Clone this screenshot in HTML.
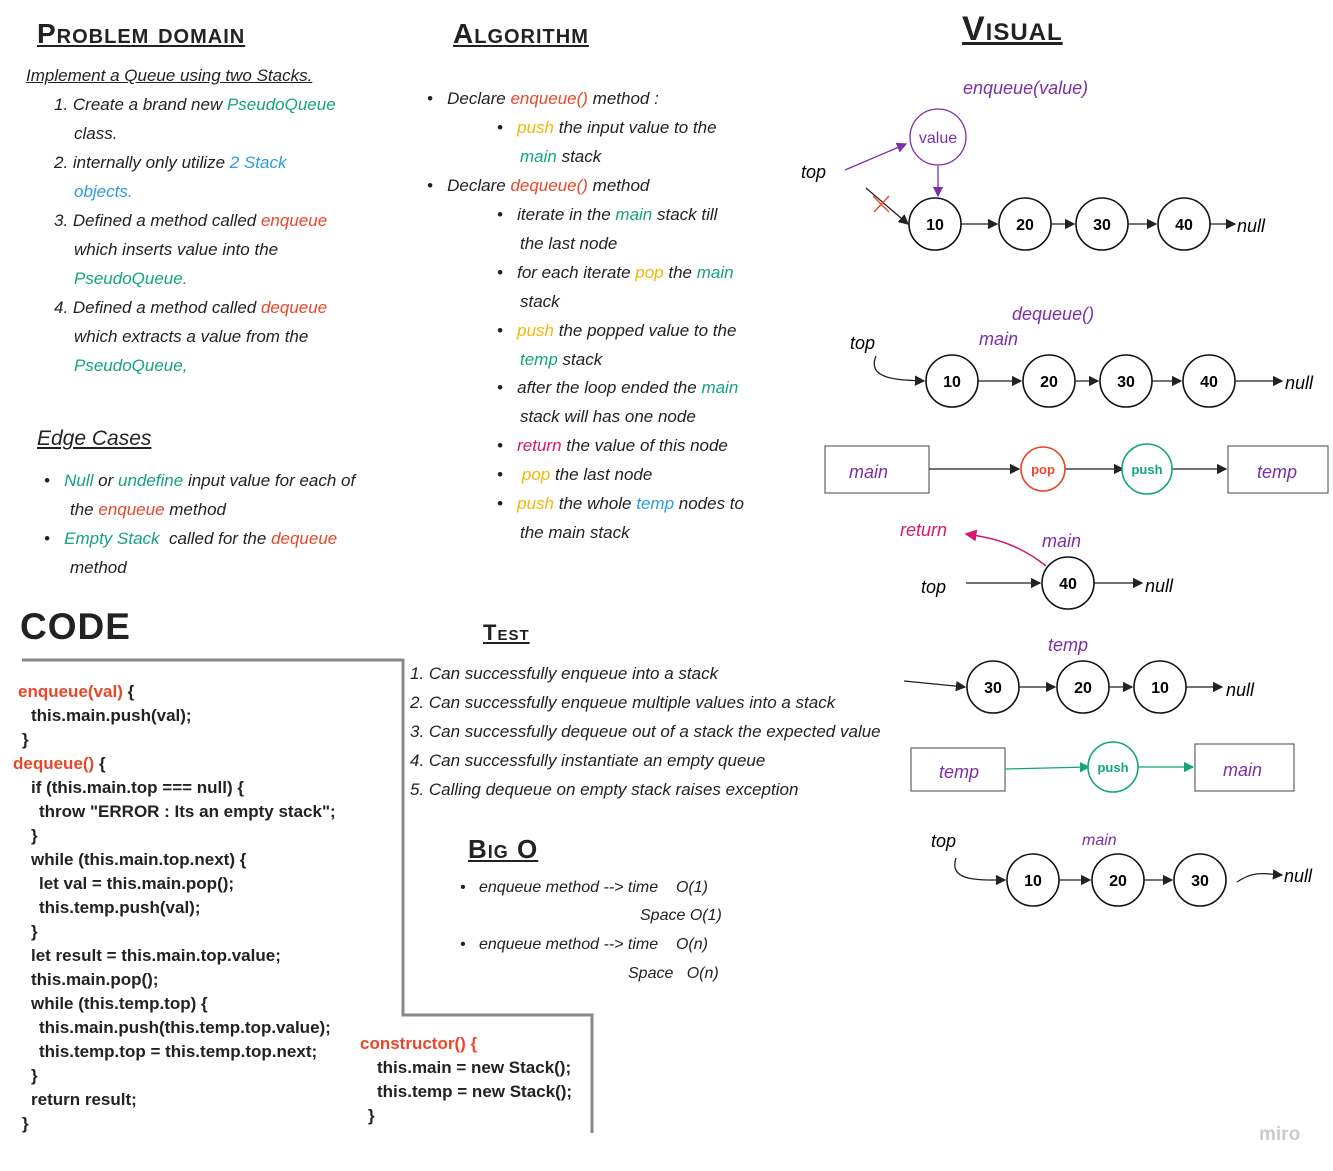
<!DOCTYPE html>
<html><head><meta charset="utf-8"><style>
body{margin:0;width:1333px;height:1171px;background:#fff;position:relative;overflow:hidden;font-family:"Liberation Sans",sans-serif;color:#222}
.t{position:absolute;white-space:nowrap;font-style:italic;font-size:17px}
.h{position:absolute;font-weight:bold;font-size:28px;text-decoration:underline;letter-spacing:1px;font-variant:small-caps;white-space:nowrap}
.c{position:absolute;font-weight:bold;font-size:17px;white-space:nowrap}
.r{color:#e8472a}.g{color:#14a37f}.b{color:#2b9de0}.y{color:#f2b705}.p{color:#7b2fa8}.m{color:#d6176b}
</style></head><body>
<div class="h" style="left:37px;top:18px">Problem domain</div>
<div class="h" style="left:453px;top:18px">Algorithm</div>
<div class="h" style="left:962px;top:10px;font-size:34px">Visual</div>
<div>
<div class="t" style="left:26px;top:66px;text-decoration:underline">Implement a Queue using two Stacks.</div>
<div class="t" style="left:54px;top:95px">1. Create a brand new <span class="g">PseudoQueue</span></div>
<div class="t" style="left:74px;top:124px">class.</div>
<div class="t" style="left:54px;top:153px">2. internally only utilize <span class="b">2 Stack</span></div>
<div class="t b" style="left:74px;top:182px">objects.</div>
<div class="t" style="left:54px;top:211px">3. Defined a method called <span class="r">enqueue</span></div>
<div class="t" style="left:74px;top:240px">which inserts value into the</div>
<div class="t g" style="left:74px;top:269px">PseudoQueue.</div>
<div class="t" style="left:54px;top:298px">4. Defined a method called <span class="r">dequeue</span></div>
<div class="t" style="left:74px;top:327px">which extracts a value from the</div>
<div class="t g" style="left:74px;top:356px">PseudoQueue,</div>
</div>
<div class="t" style="left:37px;top:427px;font-size:21px;text-decoration:underline">Edge Cases</div>
<div>
<div class="t" style="left:44px;top:471px">•&nbsp;&nbsp;&nbsp;<span class="g">Null</span> or <span class="g">undefine</span> input value for each of</div>
<div class="t" style="left:70px;top:500px">the <span class="r">enqueue</span> method</div>
<div class="t" style="left:44px;top:529px">•&nbsp;&nbsp;&nbsp;<span class="g">Empty Stack</span>&nbsp; called for the <span class="r">dequeue</span></div>
<div class="t" style="left:70px;top:558px">method</div>
</div>
<div>
<div class="t" style="left:427px;top:89px">•&nbsp;&nbsp;&nbsp;Declare <span class="r">enqueue()</span> method :</div>
<div class="t" style="left:497px;top:118px">•&nbsp;&nbsp;&nbsp;<span class="y">push</span> the input value to the</div>
<div class="t" style="left:520px;top:147px"><span class="g">main</span> stack</div>
<div class="t" style="left:427px;top:176px">•&nbsp;&nbsp;&nbsp;Declare <span class="r">dequeue()</span> method</div>
<div class="t" style="left:497px;top:205px">•&nbsp;&nbsp;&nbsp;iterate in the <span class="g">main</span> stack till</div>
<div class="t" style="left:520px;top:234px">the last node</div>
<div class="t" style="left:497px;top:263px">•&nbsp;&nbsp;&nbsp;for each iterate <span class="y">pop</span> the <span class="g">main</span></div>
<div class="t" style="left:520px;top:292px">stack</div>
<div class="t" style="left:497px;top:321px">•&nbsp;&nbsp;&nbsp;<span class="y">push</span> the popped value to the</div>
<div class="t" style="left:520px;top:350px"><span class="g">temp</span> stack</div>
<div class="t" style="left:497px;top:378px">•&nbsp;&nbsp;&nbsp;after the loop ended the <span class="g">main</span></div>
<div class="t" style="left:520px;top:407px">stack will has one node</div>
<div class="t" style="left:497px;top:436px">•&nbsp;&nbsp;&nbsp;<span class="m">return</span> the value of this node</div>
<div class="t" style="left:497px;top:465px">•&nbsp;&nbsp;&nbsp;&nbsp;<span class="y">pop</span> the last node</div>
<div class="t" style="left:497px;top:494px">•&nbsp;&nbsp;&nbsp;<span class="y">push</span> the whole <span class="b">temp</span> nodes to</div>
<div class="t" style="left:520px;top:523px">the main stack</div>
</div>
<div style="position:absolute;left:20px;top:606px;font-size:37px;font-weight:900;letter-spacing:1px">CODE</div>
<div class="h" style="left:483px;top:620px;font-size:22px">Test</div>
<div>
<div class="t" style="left:410px;top:664px">1. Can successfully enqueue into a stack</div>
<div class="t" style="left:410px;top:693px">2. Can successfully enqueue multiple values into a stack</div>
<div class="t" style="left:410px;top:722px">3. Can successfully dequeue out of a stack the expected value</div>
<div class="t" style="left:410px;top:751px">4. Can successfully instantiate an empty queue</div>
<div class="t" style="left:410px;top:780px">5. Calling dequeue on empty stack raises exception</div>
</div>
<div class="h" style="left:468px;top:834px;font-size:26px">Big O</div>
<div>
<div class="t" style="left:460px;top:879px;font-size:16px">•&nbsp;&nbsp;&nbsp;enqueue method --&gt; time&nbsp;&nbsp;&nbsp; O(1)</div>
<div class="t" style="left:640px;top:907px;font-size:16px">Space O(1)</div>
<div class="t" style="left:460px;top:936px;font-size:16px">•&nbsp;&nbsp;&nbsp;enqueue method --&gt; time&nbsp;&nbsp;&nbsp; O(n)</div>
<div class="t" style="left:628px;top:965px;font-size:16px">Space&nbsp;&nbsp; O(n)</div>
</div>
<div>
<div class="c r" style="left:18px;top:682px">enqueue(val) <span style="color:#222">{</span></div>
<div class="c" style="left:31px;top:706px">this.main.push(val);</div>
<div class="c" style="left:22px;top:730px">}</div>
<div class="c r" style="left:13px;top:754px">dequeue() <span style="color:#222">{</span></div>
<div class="c" style="left:31px;top:778px">if (this.main.top === null) {</div>
<div class="c" style="left:39px;top:802px">throw "ERROR : Its an empty stack";</div>
<div class="c" style="left:31px;top:826px">}</div>
<div class="c" style="left:31px;top:850px">while (this.main.top.next) {</div>
<div class="c" style="left:39px;top:874px">let val = this.main.pop();</div>
<div class="c" style="left:39px;top:898px">this.temp.push(val);</div>
<div class="c" style="left:31px;top:922px">}</div>
<div class="c" style="left:31px;top:946px">let result = this.main.top.value;</div>
<div class="c" style="left:31px;top:970px">this.main.pop();</div>
<div class="c" style="left:31px;top:994px">while (this.temp.top) {</div>
<div class="c" style="left:39px;top:1018px">this.main.push(this.temp.top.value);</div>
<div class="c" style="left:39px;top:1042px">this.temp.top = this.temp.top.next;</div>
<div class="c" style="left:31px;top:1066px">}</div>
<div class="c" style="left:31px;top:1090px">return result;</div>
<div class="c" style="left:22px;top:1114px">}</div>
<div class="c r" style="left:360px;top:1034px">constructor() {</div>
<div class="c" style="left:377px;top:1058px">this.main = new Stack();</div>
<div class="c" style="left:377px;top:1082px">this.temp = new Stack();</div>
<div class="c" style="left:368px;top:1106px">}</div>
</div>
<div style="position:absolute;left:1259px;top:1124px;color:#ccc;font-size:19px;font-weight:bold">miro</div>

<svg width="1333" height="1171" style="position:absolute;left:0;top:0" font-family="Liberation Sans,sans-serif">
<defs><marker id="a" markerWidth="8" markerHeight="8" refX="7" refY="4" orient="auto"><path d="M0,0L8,4L0,8z" fill="#222"/></marker>
<marker id="ap" markerWidth="8" markerHeight="8" refX="7" refY="4" orient="auto"><path d="M0,0L8,4L0,8z" fill="#7b2fa8"/></marker>
<marker id="am" markerWidth="8" markerHeight="8" refX="7" refY="4" orient="auto"><path d="M0,0L8,4L0,8z" fill="#d6176b"/></marker>
<marker id="ag" markerWidth="8" markerHeight="8" refX="7" refY="4" orient="auto"><path d="M0,0L8,4L0,8z" fill="#14a37f"/></marker></defs>
<polyline points="22,660 403,660 403,1015 592,1015 592,1133" fill="none" stroke="#888" stroke-width="3"/>
<g font-style="italic" font-size="18">
<text x="963" y="94" fill="#7b2fa8">enqueue(value)</text>
<text x="801" y="178">top</text>
<text x="1012" y="320" fill="#7b2fa8">dequeue()</text>
<text x="850" y="349">top</text>
<text x="979" y="345" fill="#7b2fa8">main</text>
<text x="849" y="478" fill="#7b2fa8">main</text>
<text x="1257" y="478" fill="#7b2fa8">temp</text>
<text x="900" y="536" fill="#d6176b">return</text>
<text x="1042" y="547" fill="#7b2fa8">main</text>
<text x="921" y="593">top</text>
<text x="1048" y="651" fill="#7b2fa8">temp</text>
<text x="939" y="778" fill="#7b2fa8">temp</text>
<text x="1223" y="776" fill="#7b2fa8">main</text>
<text x="931" y="847">top</text>
<text x="1082" y="845" fill="#7b2fa8" font-size="16">main</text>
<text x="1237" y="232">null</text><text x="1285" y="389">null</text><text x="1145" y="592">null</text><text x="1226" y="696">null</text><text x="1284" y="882">null</text>
</g>
<rect x="825" y="446" width="104" height="47" fill="none" stroke="#444"/>
<rect x="1228" y="446" width="100" height="47" fill="none" stroke="#444"/>
<rect x="911" y="748" width="94" height="43" fill="none" stroke="#444"/>
<rect x="1195" y="744" width="99" height="47" fill="none" stroke="#444"/>
<g stroke="#222" stroke-width="1.3" fill="none" marker-end="url(#a)">
<line x1="961" y1="224" x2="997" y2="224"/><line x1="1051" y1="224" x2="1074" y2="224"/><line x1="1128" y1="224" x2="1156" y2="224"/><line x1="1210" y1="224" x2="1235" y2="224"/>
<line x1="866" y1="188" x2="908" y2="224"/>
<path d="M876,356 C866,380 900,380 924,381"/>
<line x1="978" y1="381" x2="1021" y2="381"/><line x1="1075" y1="381" x2="1098" y2="381"/><line x1="1152" y1="381" x2="1181" y2="381"/><line x1="1235" y1="381" x2="1282" y2="381"/>
<line x1="929" y1="469" x2="1019" y2="469"/><line x1="1065" y1="469" x2="1123" y2="469"/><line x1="1171" y1="469" x2="1226" y2="469"/>
<line x1="966" y1="583" x2="1040" y2="583"/><line x1="1094" y1="583" x2="1142" y2="583"/>
<line x1="904" y1="681" x2="965" y2="687"/><line x1="1019" y1="687" x2="1055" y2="687"/><line x1="1109" y1="687" x2="1132" y2="687"/><line x1="1186" y1="687" x2="1222" y2="687"/>
<path d="M956,858 C948,882 980,880 1005,880"/>
<line x1="1059" y1="880" x2="1090" y2="880"/><line x1="1144" y1="880" x2="1172" y2="880"/><path d="M1237,882 C1255,870 1265,874 1282,875"/>
</g>
<g stroke="#7b2fa8" stroke-width="1.3" marker-end="url(#ap)"><line x1="845" y1="170" x2="906" y2="144"/><line x1="938" y1="166" x2="938" y2="196"/></g>
<path d="M1046,566 C1020,545 995,538 966,534" stroke="#d6176b" stroke-width="1.5" fill="none" marker-end="url(#am)"/>
<g stroke="#14a37f" stroke-width="1.3" marker-end="url(#ag)"><line x1="1005" y1="769" x2="1089" y2="767"/><line x1="1137" y1="767" x2="1193" y2="767"/></g>
<path d="M873,196 L889,212 M874,212 L889,196" stroke="#e8472a" stroke-width="1.3"/>
<circle cx="938" cy="137" r="28" fill="#fff" stroke="#7b2fa8" stroke-width="1.3"/><text x="938" y="143" text-anchor="middle" font-size="16" fill="#7b2fa8">value</text>
<g fill="#fff" stroke="#111" stroke-width="1.6">
<circle cx="935" cy="224" r="26"/><circle cx="1025" cy="224" r="26"/><circle cx="1102" cy="224" r="26"/><circle cx="1184" cy="224" r="26"/>
<circle cx="952" cy="381" r="26"/><circle cx="1049" cy="381" r="26"/><circle cx="1126" cy="381" r="26"/><circle cx="1209" cy="381" r="26"/>
<circle cx="1068" cy="583" r="26"/>
<circle cx="993" cy="687" r="26"/><circle cx="1083" cy="687" r="26"/><circle cx="1160" cy="687" r="26"/>
<circle cx="1033" cy="880" r="26"/><circle cx="1118" cy="880" r="26"/><circle cx="1200" cy="880" r="26"/>
</g>
<circle cx="1043" cy="469" r="22" fill="#fff" stroke="#e8472a" stroke-width="1.6"/><text x="1043" y="474" text-anchor="middle" font-size="13" font-weight="bold" fill="#e8472a">pop</text>
<circle cx="1147" cy="469" r="25" fill="#fff" stroke="#14a37f" stroke-width="1.6"/><text x="1147" y="474" text-anchor="middle" font-size="13" font-weight="bold" fill="#14a37f">push</text>
<circle cx="1113" cy="767" r="25" fill="#fff" stroke="#14a37f" stroke-width="1.6"/><text x="1113" y="772" text-anchor="middle" font-size="13" font-weight="bold" fill="#14a37f">push</text>
<g font-size="16" font-weight="bold" text-anchor="middle">
<text x="935" y="230">10</text><text x="1025" y="230">20</text><text x="1102" y="230">30</text><text x="1184" y="230">40</text>
<text x="952" y="387">10</text><text x="1049" y="387">20</text><text x="1126" y="387">30</text><text x="1209" y="387">40</text>
<text x="1068" y="589">40</text>
<text x="993" y="693">30</text><text x="1083" y="693">20</text><text x="1160" y="693">10</text>
<text x="1033" y="886">10</text><text x="1118" y="886">20</text><text x="1200" y="886">30</text>
</g>
</svg>
</body></html>
